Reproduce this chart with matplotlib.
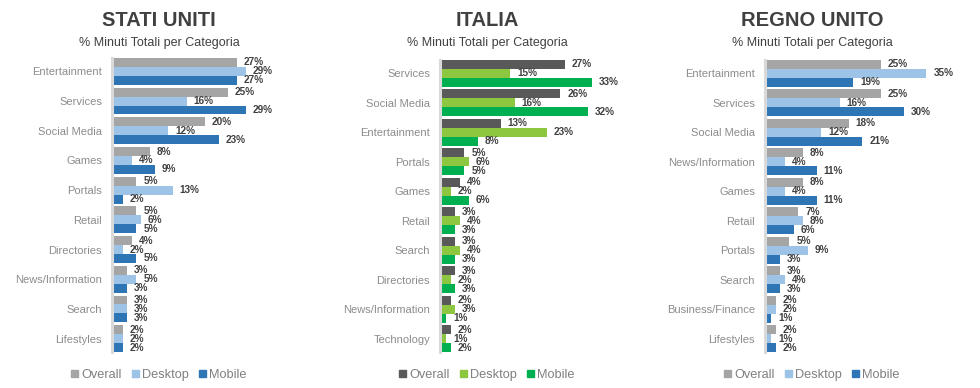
import matplotlib
import matplotlib.pyplot as plt
from matplotlib.patches import Patch

plt.rcParams['font.family'] = ['Liberation Sans', 'DejaVu Sans']

# dati
us_cat = ['Entertainment', 'Services', 'Social Media', 'Games', 'Portals',
          'Retail', 'Directories', 'News/Information', 'Search', 'Lifestyles']
us_overall = [27, 25, 20, 8, 5, 5, 4, 3, 3, 2]
us_desktop = [29, 16, 12, 4, 13, 6, 2, 5, 3, 2]
us_mobile = [27, 29, 23, 9, 2, 5, 5, 3, 3, 2]

it_cat = ['Services', 'Social Media', 'Entertainment', 'Portals', 'Games',
          'Retail', 'Search', 'Directories', 'News/Information', 'Technology']
it_overall = [27, 26, 13, 5, 4, 3, 3, 3, 2, 2]
it_desktop = [15, 16, 23, 6, 2, 4, 4, 2, 3, 1]
it_mobile = [33, 32, 8, 5, 6, 3, 3, 3, 1, 2]

uk_cat = ['Entertainment', 'Services', 'Social Media', 'News/Information', 'Games',
          'Retail', 'Portals', 'Search', 'Business/Finance', 'Lifestyles']
uk_overall = [25, 25, 18, 8, 8, 7, 5, 3, 2, 2]
uk_desktop = [35, 16, 12, 4, 4, 8, 9, 4, 2, 1]
uk_mobile = [19, 30, 21, 11, 11, 6, 3, 3, 1, 2]

series_names = ['Overall', 'Desktop', 'Mobile']
blue_colors = ['#A5A5A5', '#9DC3E6', '#2E75B6']
green_colors = ['#595959', '#8DC63F', '#00B050']

W, H = 980, 388
fig = plt.figure(figsize=(W / 100, H / 100), dpi=100)

panels = [
    ('STATI UNITI', us_cat, [us_overall, us_desktop, us_mobile], blue_colors, 113.5, 58, 159),
    ('ITALIA', it_cat, [it_overall, it_desktop, it_mobile], green_colors, 441.5, 60, 487),
    ('REGNO UNITO', uk_cat, [uk_overall, uk_desktop, uk_mobile], blue_colors, 766.5, 60, 812),
]

px_per_pct = 4.57
xmax = 40
bar_h = 0.3

for title, cats, vals, colors, x0, top, cx in panels:
    bottom = 352
    ax = fig.add_axes([x0 / W, (H - bottom) / H, xmax * px_per_pct / W, (bottom - top) / H])
    n = len(cats)
    for j in range(3):
        pos = [i - bar_h + j * bar_h for i in range(n)]
        ax.barh(pos, vals[j], height=bar_h, color=colors[j], edgecolor='none')
        for p, v in zip(pos, vals[j]):
            ax.annotate('%d%%' % v, (v, p), xytext=(5, 0), textcoords='offset points',
                        va='center', ha='left', fontsize=7.2, fontweight='bold',
                        color='#404040')
    ax.set_xlim(0, xmax)
    ax.set_ylim(n - 1 + 1.5 * bar_h, -1.5 * bar_h)
    ax.set_yticks(range(n))
    ax.set_yticklabels(cats)
    ax.tick_params(axis='y', length=0, pad=7, labelsize=8, labelcolor='#8C8C8C')
    ax.set_xticks([])
    for s in ['top', 'right', 'bottom']:
        ax.spines[s].set_visible(False)
    ax.spines['left'].set_color('#D9D9D9')
    ax.spines['left'].set_linewidth(2.2)
    ax.spines['left'].set_position(('outward', 1.2))
    ax.patch.set_visible(False)

    fig.text(cx / W, 1 - 20 / H, title, ha='center', va='center', fontsize=14.5,
             fontweight='bold', color='#404040')
    fig.text(cx / W, 1 - 43 / H, '% Minuti Totali per Categoria', ha='center',
             va='center', fontsize=9, color='#404040')
    handles = [Patch(color=c) for c in colors]
    fig.legend(handles, series_names, loc='center', bbox_to_anchor=(cx / W, 1 - 375 / H),
               ncol=3, frameon=False, fontsize=9.2, handlelength=0.55, handleheight=0.55,
               handletextpad=0.25, columnspacing=0.8, labelcolor='#7F7F7F')

plt.savefig('out.png', dpi=100)
